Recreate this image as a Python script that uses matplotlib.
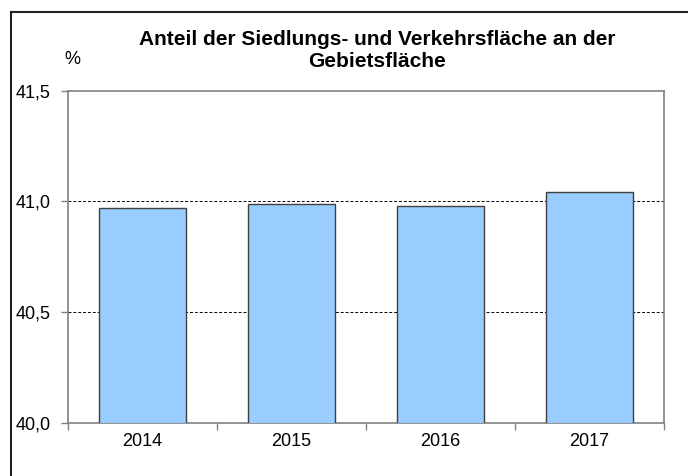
import numpy as np
import matplotlib.pyplot as plt
from matplotlib.ticker import FuncFormatter, FixedLocator
from matplotlib.lines import Line2D

plt.rcParams['font.family'] = ['Liberation Sans', 'DejaVu Sans']

years = ['2014', '2015', '2016', '2017']
anteil = [40.97, 40.99, 40.98, 41.04]
y_ticks = [40.0, 40.5, 41.0, 41.5]
title_lines = ['Anteil der Siedlungs- und Verkehrsfläche an der', 'Gebietsfläche']

W, H = 688, 476
fig = plt.figure(figsize=(W / 100, H / 100), dpi=100)
ax = fig.add_axes([68 / W, (H - 423) / H, (664 - 68) / W, (423 - 90.5) / H])

x = np.arange(len(years))
ax.bar(x, anteil, width=0.59, color='#99CCFF', edgecolor='#404040',
       linewidth=1.0, zorder=3)

ax.set_ylim(y_ticks[0], y_ticks[-1])
ax.set_xlim(-0.5, len(years) - 0.5)
ax.set_yticks(y_ticks)
ax.yaxis.set_major_formatter(FuncFormatter(lambda v, p: f'{v:.1f}'.replace('.', ',')))
for yv in y_ticks[1:-1]:
    ax.axhline(yv, color='black', linestyle=(0, (3, 2)), linewidth=0.7, zorder=1)

ax.set_xticks(x)
ax.set_xticklabels(years)
ax.xaxis.set_minor_locator(FixedLocator(np.arange(-0.5, len(years), 1.0)))
ax.tick_params(axis='x', which='major', length=0, pad=7.5, labelsize=13)
ax.tick_params(axis='x', which='minor', length=5, width=1, color='#808080', direction='out')
ax.tick_params(axis='y', length=5, width=1, color='#808080', direction='out', pad=7.5, labelsize=13)

for s in ax.spines.values():
    s.set_color('#808080')
    s.set_linewidth(1.2)

fig.text(377 / W, 1 - 45 / H, title_lines[0], ha='center', va='baseline', fontsize=15,
         fontweight='bold')
fig.text(377 / W, 1 - 67 / H, title_lines[1], ha='center', va='baseline', fontsize=15,
         fontweight='bold')
fig.text(72 / W, 1 - 60 / H, '%', ha='center', va='center', fontsize=13)

# outer frame (top and left edges visible)
fig.add_artist(Line2D([11 / W, 1.0], [1 - 11.5 / H, 1 - 11.5 / H], transform=fig.transFigure,
                      color='#202020', linewidth=1.5))
fig.add_artist(Line2D([11 / W, 11 / W], [0.0, 1 - 11.5 / H], transform=fig.transFigure,
                      color='#202020', linewidth=1.5))

fig.savefig('out.png', dpi=100)
